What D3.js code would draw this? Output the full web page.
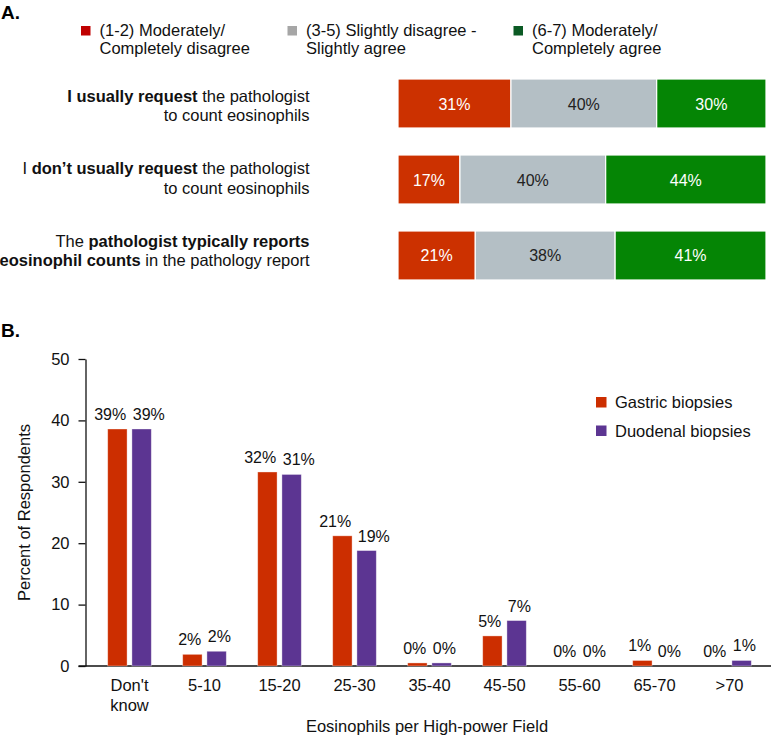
<!DOCTYPE html>
<html>
<head>
<meta charset="utf-8">
<script src="https://cdn.jsdelivr.net/npm/d3@7"></script>
<style>
  html, body { margin: 0; padding: 0; background: #fff; }
  svg { display: block; font-family: Arial, "Liberation Sans", sans-serif; }
</style>
</head>
<body>
<svg id="chart" width="771" height="738"></svg>
<script>
// ---------- Panel A data ----------
const legendALabels = [
  ["(1-2) Moderately/", "Completely disagree"],
  ["(3-5) Slightly disagree -", "Slightly agree"],
  ["(6-7) Moderately/", "Completely agree"]
];
const rowKeys = ["usually", "dontUsually", "typically"];
const rowLabelLines = [
  [[["I usually request", true], [" the pathologist", false]], [["to count eosinophils", false]]],
  [[["I ", false], ["don\u2019t usually request", true], [" the pathologist", false]], [["to count eosinophils", false]]],
  [[["The ", false], ["pathologist typically reports", true]], [["eosinophil counts", true], [" in the pathology report", false]]]
];
const disagree = [31, 17, 21];
const neutral  = [40, 40, 38];
const agree    = [30, 44, 41];

// ---------- Panel B data ----------
const categories = ["Don't know", "5-10", "15-20", "25-30", "35-40", "45-50", "55-60", "65-70", ">70"];
const categoryLines = [["Don't", "know"], ["5-10"], ["15-20"], ["25-30"], ["35-40"], ["45-50"], ["55-60"], ["65-70"], [">70"]];
const seriesNames = ["Gastric biopsies", "Duodenal biopsies"];
const gastric  = [38.6, 1.9, 31.6, 21.2, 0.5, 4.9, 0, 0.9, 0];
const duodenal = [38.6, 2.4, 31.2, 18.8, 0.5, 7.4, 0, 0, 0.9];
const gastricLabels  = ["39%", "2%", "32%", "21%", "0%", "5%", "0%", "1%", "0%"];
const duodenalLabels = ["39%", "2%", "31%", "19%", "0%", "7%", "0%", "0%", "1%"];
const yTicks = [0, 10, 20, 30, 40, 50];

// ---------- styling ----------
const FONT = 16.5;
const barColorsA = ["#cc3100", "#b4bfc5", "#058505"];
const legendColorsA = ["#c00000", "#a6a6a6", "#0b5a24"];
const labelColorsA = ["#ffffff", "#222222", "#ffffff"];
const barColorsB = ["#cc2e00", "#5c3592"];

const svg = d3.select("#chart");

// Panel titles
svg.append("text").attr("x", 1).attr("y", 18.5).attr("font-size", 19).attr("font-weight", "bold").text("A.");
svg.append("text").attr("x", 1).attr("y", 336.5).attr("font-size", 19).attr("font-weight", "bold").text("B.");

// ---------- Panel A ----------
const legA = svg.append("g");
const legAXs = [81, 287.5, 513.5];
legendALabels.forEach((lines, i) => {
  const g = legA.append("g").attr("transform", `translate(${legAXs[i]},0)`);
  g.append("rect").attr("x", 0).attr("y", 26).attr("width", 9.5).attr("height", 9.5).attr("fill", legendColorsA[i]);
  const t = g.append("text").attr("x", 18.5).attr("y", 36).attr("font-size", FONT).attr("fill", "#111");
  lines.forEach((l, j) => t.append("tspan").attr("x", 18.5).attr("dy", j === 0 ? 0 : 18.3).text(l));
});

const yA = d3.scaleBand().domain(rowKeys).range([79, 280]).paddingInner(0.355).paddingOuter(0);
const labelY = d3.scalePoint().domain(rowKeys).range([102, 246.5]);
const xA0 = 398, xA1 = 766;

rowKeys.forEach((key, r) => {
  const vals = [disagree[r], neutral[r], agree[r]];
  const total = d3.sum(vals);
  const x = d3.scaleLinear().domain([0, total]).range([xA0, xA1]);
  const starts = d3.cumsum([0].concat(vals)).slice(0, 3);
  const g = svg.append("g");
  vals.forEach((v, s) => {
    g.append("rect")
      .attr("x", x(starts[s])).attr("y", yA(key))
      .attr("width", x(starts[s] + v) - x(starts[s])).attr("height", yA.bandwidth())
      .attr("fill", barColorsA[s]).attr("stroke", "#fff").attr("stroke-width", 1.2);
    g.append("text")
      .attr("x", x(starts[s] + v / 2)).attr("y", yA(key) + yA.bandwidth() / 2 + 6)
      .attr("text-anchor", "middle").attr("font-size", 16).attr("fill", labelColorsA[s])
      .text(v + "%");
  });
  // row label
  const lines = rowLabelLines[r];
  lines.forEach((parts, li) => {
    const t = svg.append("text").attr("x", 309.5).attr("y", labelY(key) + li * 19.4)
      .attr("text-anchor", "end").attr("font-size", FONT).attr("fill", "#111");
    parts.forEach(([txt, bold]) => t.append("tspan").attr("font-weight", bold ? "bold" : "normal").text(txt));
  });
});

// ---------- Panel B ----------
const yB = d3.scaleLinear().domain([0, 50]).range([666, 359]);
const xB = d3.scaleBand().domain(categories).range([92, 767]).padding(0);
const xSub = d3.scaleBand().domain(seriesNames).range([15.7, 59.3]).paddingInner(0.2).paddingOuter(0);
const axisX = 85.5;

// y axis
const yAxis = svg.append("g").attr("transform", `translate(${axisX},0)`)
  .call(d3.axisLeft(yB).tickValues(yTicks).tickSize(7).tickSizeOuter(0).tickPadding(9));
yAxis.selectAll("text").attr("font-size", FONT).attr("fill", "#111").attr("font-family", "Arial, 'Liberation Sans', sans-serif");
yAxis.selectAll("line, path").attr("stroke", "#111").attr("stroke-width", 1.3);

// x axis
const xAxis = svg.append("g").attr("transform", `translate(0,${yB(0)})`)
  .call(d3.axisBottom(xB).tickSize(0).tickSizeOuter(0));
xAxis.select(".domain").remove();
xAxis.append("line").attr("x1", axisX - 7).attr("x2", 771).attr("y1", 0).attr("y2", 0)
  .attr("stroke", "#111").attr("stroke-width", 1.3);
xAxis.selectAll(".tick text").each(function(d) {
  const i = categories.indexOf(d);
  const t = d3.select(this).text(null).attr("y", 25).attr("dy", 0)
    .attr("font-size", FONT).attr("fill", "#111").attr("font-family", "Arial, 'Liberation Sans', sans-serif");
  categoryLines[i].forEach((l, j) => t.append("tspan").attr("x", 0).attr("dy", j === 0 ? 0 : 19.5).text(l));
});

// bars
const seriesVals = [gastric, duodenal];
const seriesLbls = [gastricLabels, duodenalLabels];
const barsG = svg.append("g");
const lblG = svg.append("g");
categories.forEach((c, i) => {
  const labels = [];
  seriesNames.forEach((s, k) => {
    const v = seriesVals[k][i];
    const bx = xB(c) + xSub(s);
    barsG.append("rect")
      .attr("x", bx).attr("y", yB(v))
      .attr("width", xSub.bandwidth()).attr("height", yB(0) - yB(v))
      .attr("fill", barColorsB[k]).attr("stroke", "rgba(255,255,255,0.45)").attr("stroke-width", 0.8);
    const t = lblG.append("text")
      .attr("x", bx + xSub.bandwidth() / 2).attr("y", yB(v) - 9)
      .attr("text-anchor", "middle").attr("font-size", 16).attr("fill", "#111")
      .text(seriesLbls[k][i]);
    labels.push(t);
  });
  // push overlapping labels apart symmetrically
  const w0 = labels[0].node().getComputedTextLength();
  const w1 = labels[1].node().getComputedTextLength();
  const c0 = +labels[0].attr("x"), c1 = +labels[1].attr("x");
  const gap = (c1 - w1 / 2) - (c0 + w0 / 2);
  const minGap = 6.5;
  if (gap < minGap) {
    const shift = (minGap - gap) / 2;
    labels[0].attr("x", c0 - shift);
    labels[1].attr("x", c1 + shift);
  }
});

// legend B
const legB = svg.append("g").attr("transform", "translate(596,0)");
const legBY = d3.scalePoint().domain(seriesNames).range([397, 425.5]);
seriesNames.forEach((s, k) => {
  legB.append("rect").attr("x", 0).attr("y", legBY(s)).attr("width", 10.5).attr("height", 10.5).attr("fill", barColorsB[k]);
  legB.append("text").attr("x", 19).attr("y", legBY(s) + 11).attr("font-size", FONT).attr("fill", "#111").text(s);
});

// axis titles
svg.append("text").attr("transform", `translate(29.5,${(yB(0) + yB(50)) / 2}) rotate(-90)`)
  .attr("text-anchor", "middle").attr("font-size", FONT).attr("fill", "#111").text("Percent of Respondents");
svg.append("text").attr("x", 427).attr("y", 732)
  .attr("text-anchor", "middle").attr("font-size", FONT).attr("fill", "#111").text("Eosinophils per High-power Field");
</script>
</body>
</html>
